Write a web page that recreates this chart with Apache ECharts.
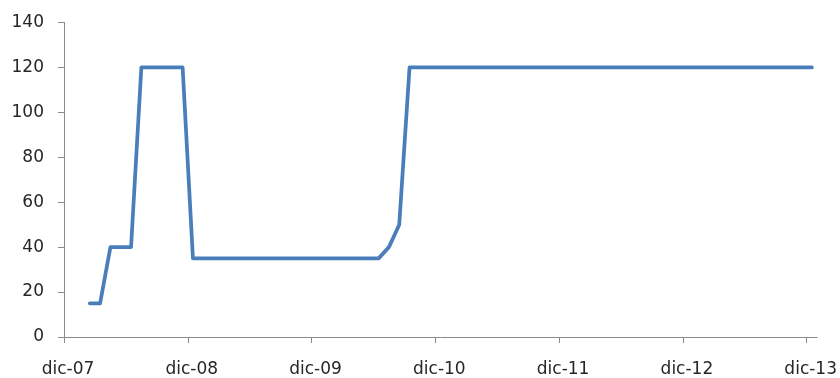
<!DOCTYPE html>
<html>
<head>
<meta charset="utf-8">
<script src="https://cdn.jsdelivr.net/npm/echarts@6/dist/echarts.min.js"></script>
<style>
  html, body { margin: 0; padding: 0; background: #fff; }
  #chart { width: 840px; height: 378px; }
</style>
</head>
<body>
<div id="chart"></div>
<script>
// Monthly series, first month shown is feb-08; the axis starts at dic-07.
const monthNames = ['ene', 'feb', 'mar', 'abr', 'may', 'jun', 'jul', 'ago', 'sep', 'oct', 'nov', 'dic'];
const firstMonthOffset = 2; // feb-08 is two months after dic-07
const values = [
  15, 15, 40, 40, 40,                 // feb-08 .. jun-08
  120, 120, 120, 120, 120,            // jul-08 .. nov-08
  35, 35, 35, 35, 35, 35, 35, 35, 35, 35,
  35, 35, 35, 35, 35, 35, 35, 35, 35, // dic-08 .. jun-10
  40, 50,                             // jul-10, ago-10
  120, 120, 120, 120, 120, 120, 120, 120, 120, 120,
  120, 120, 120, 120, 120, 120, 120, 120, 120, 120,
  120, 120, 120, 120, 120, 120, 120, 120, 120, 120,
  120, 120, 120, 120, 120, 120, 120, 120, 120, 120  // sep-10 .. dic-13
];
const categories = values.map((_, i) => {
  const m = firstMonthOffset + i + 11; // months counted from ene-07
  return monthNames[m % 12] + '-' + String(7 + Math.floor(m / 12)).padStart(2, '0');
});
const xTickLabels = ['dic-07', 'dic-08', 'dic-09', 'dic-10', 'dic-11', 'dic-12', 'dic-13'];
const yTicks = [0, 20, 40, 60, 80, 100, 120, 140];

const monthsOnAxis = 73; // dic-07 .. dic-13 inclusive
const xTickPositions = xTickLabels.map((_, i) => i * 12);

// Each month sits in the middle of its slot on the date axis.
const seriesData = values.map((v, i) => [firstMonthOffset + i + 0.5, v, categories[i]]);

const fontFamily = 'DejaVu Sans';
const chart = echarts.init(document.getElementById('chart'), null, { renderer: 'canvas' });
chart.setOption({
  animation: false,
  backgroundColor: '#ffffff',
  grid: { left: 64, right: 22, top: 22.5, bottom: 41, containLabel: false },
  xAxis: {
    type: 'value',
    min: 0,
    max: monthsOnAxis,
    splitLine: { show: false },
    axisLine: { show: true, lineStyle: { color: '#8a8a8a', width: 1 } },
    axisTick: { show: true, length: 6, inside: false, customValues: xTickPositions, lineStyle: { color: '#8a8a8a' } },
    axisLabel: {
      customValues: xTickPositions,
      margin: 24,
      color: '#262626',
      fontFamily: fontFamily,
      fontSize: 17,
      padding: [0, 0, 0, 8],
      formatter: (val) => xTickLabels[Math.round(val / 12)] || ''
    }
  },
  yAxis: {
    type: 'value',
    min: yTicks[0],
    max: yTicks[yTicks.length - 1],
    interval: 20,
    splitLine: { show: false },
    axisLine: { show: true, lineStyle: { color: '#8a8a8a', width: 1 } },
    axisTick: { show: true, length: 6, inside: false, lineStyle: { color: '#8a8a8a' } },
    axisLabel: {
      margin: 20,
      color: '#262626',
      fontFamily: fontFamily,
      fontSize: 17
    }
  },
  series: [{
    type: 'line',
    data: seriesData,
    showSymbol: false,
    symbol: 'none',
    lineStyle: { color: '#4a7ebb', width: 3.75, join: 'round', cap: 'round' },
    itemStyle: { color: '#4a7ebb' }
  }]
});
</script>
</body>
</html>
